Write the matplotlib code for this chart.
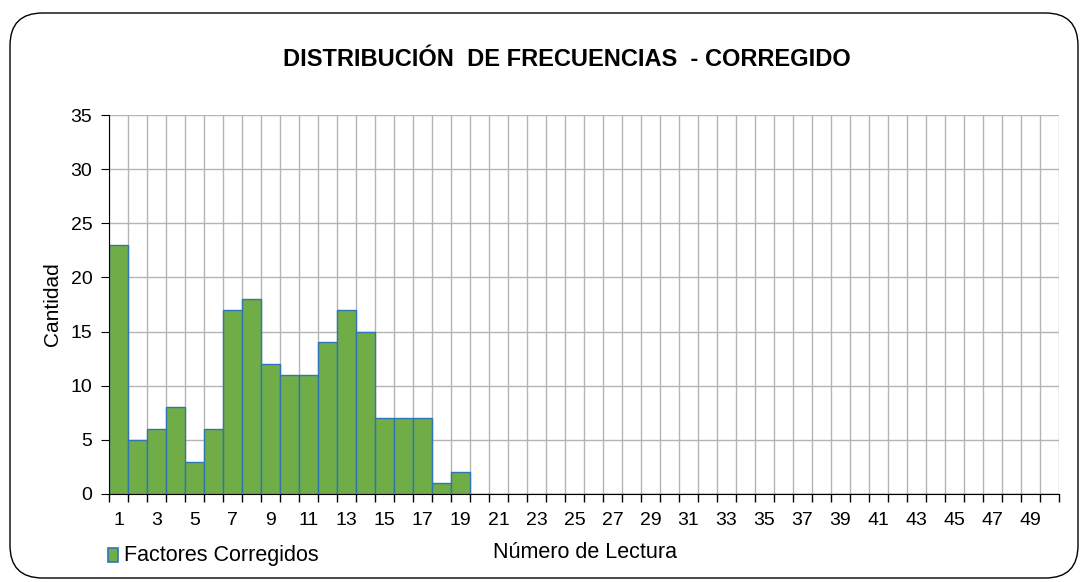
import matplotlib.pyplot as plt
import numpy as np
from matplotlib.patches import FancyBboxPatch, Rectangle

plt.rcParams['font.family'] = ['Liberation Sans', 'DejaVu Sans']

# data
lecturas = list(range(1, 51))
cantidad = [23, 5, 6, 8, 3, 6, 17, 18, 12, 11, 11, 14, 17, 15, 7, 7, 7, 1, 2] + [0] * 31
tick_labels = [str(n) for n in lecturas[::2]]

fig = plt.figure(figsize=(10.87, 5.82), dpi=100)
fig.patch.set_facecolor('white')

# rounded outer frame
frame = FancyBboxPatch((10 / 1087, 4 / 582), 1068 / 1087, 565 / 582,
                       boxstyle="round,pad=0,rounding_size=0.03",
                       transform=fig.transFigure, facecolor='white',
                       edgecolor='black', linewidth=1.0, mutation_aspect=1087 / 582,
                       zorder=-10)
fig.patches.append(frame)

ax = fig.add_axes([109 / 1087, 1 - 494 / 582, 950 / 1087, 379 / 582])
ax.set_facecolor('none')
ax.set_zorder(5)

x = np.arange(len(lecturas))
ax.bar(x, cantidad, width=1.0, color='#70AD47', edgecolor='#2E75B6', linewidth=1.0, zorder=3)

ax.set_xlim(-0.5, len(lecturas) - 0.5)
ax.set_ylim(0, 35)
ax.set_yticks(range(0, 36, 5))
ax.set_xticks(x[::2])
ax.set_xticklabels(tick_labels)
ax.set_xticks(np.arange(-0.5, len(lecturas), 1.0), minor=True)
ax.tick_params(axis='x', which='major', length=0, labelsize=14, pad=13)
ax.tick_params(axis='x', which='minor', length=6, width=1, color='black', direction='out')
ax.tick_params(axis='y', length=6, labelsize=14, color='black', pad=6)

ax.grid(True, which='minor', axis='x', color='#b4b4b4', linewidth=1.0, zorder=0)
ax.grid(True, which='major', axis='y', color='#b4b4b4', linewidth=1.0, zorder=0)
ax.grid(False, which='major', axis='x')

for side in ['top', 'right']:
    ax.spines[side].set_visible(False)
ax.spines['left'].set_color('black')
ax.spines['bottom'].set_color('black')
ax.spines['left'].set_zorder(4)
ax.spines['bottom'].set_zorder(4)

ax.set_ylabel('Cantidad', fontsize=15, labelpad=6)

fig.text(567 / 1087, 1 - 59 / 582, 'DISTRIBUCIÓN  DE FRECUENCIAS  - CORREGIDO',
         ha='center', va='center', fontsize=17, fontweight='bold')
fig.text(585 / 1087, 1 - 553 / 582, 'Número de Lectura', ha='center', va='center', fontsize=15.5)

# legend
fig.patches.append(Rectangle((108 / 1087, 1 - 562 / 582), 10 / 1087, 14 / 582,
                             transform=fig.transFigure, facecolor='#70AD47',
                             edgecolor='#2E75B6', linewidth=1.2))
fig.text(124 / 1087, 1 - 555 / 582, 'Factores Corregidos', ha='left', va='center', fontsize=15.5)

fig.savefig('out.png', dpi=100)
